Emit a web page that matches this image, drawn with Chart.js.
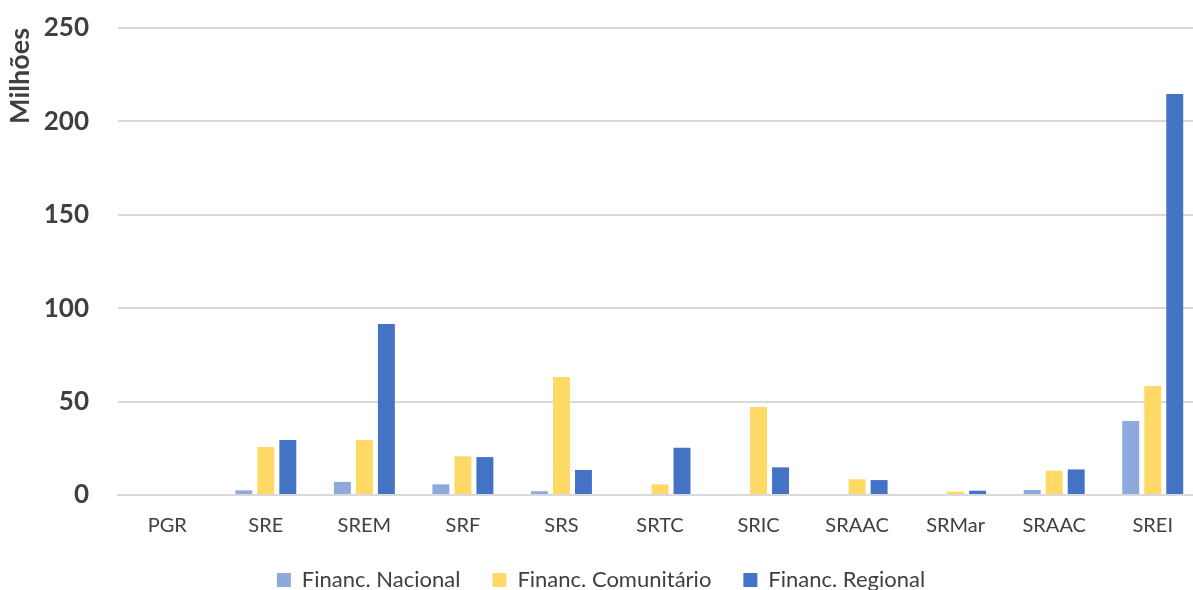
<!DOCTYPE html>
<html>
<head>
<meta charset="utf-8">
<script src="https://cdn.jsdelivr.net/npm/chart.js@4"></script>
<style>
    html, body { margin: 0; padding: 0; background: #fff; overflow: hidden; }
    #wrap { width: 1205px; height: 601px; position: relative; }
</style>
</head>
<body>
<div id="wrap"><canvas id="chart"></canvas></div>
<script>
// categories and series (milhões)
const categories = ['PGR', 'SRE', 'SREM', 'SRF', 'SRS', 'SRTC', 'SRIC', 'SRAAC', 'SRMar', 'SRAAC', 'SREI'];
const nacional = [0, 2.5, 7, 5.7, 2, 0, 0, 0, 0, 2.7, 39.6];
const comunitario = [0, 25.7, 29.4, 20.7, 63.2, 5.7, 47.1, 8.4, 1.8, 13, 58.4];
const regional = [0, 29.4, 91.5, 20.3, 13.4, 25.3, 14.8, 8, 2.3, 13.7, 214.7];
const yTicks = [0, 50, 100, 150, 200, 250];

const textColor = '#404040';
const gridColor = '#d9d9d9';
const fontFamily = 'Lato, "Open Sans", sans-serif';

function dataset(label, data, color) {
    return {
        label: label,
        data: data,
        backgroundColor: color,
        borderWidth: 0,
        categoryPercentage: 0.67,
        barPercentage: 0.77
    };
}

new Chart(document.getElementById('chart'), {
    type: 'bar',
    data: {
        labels: categories,
        datasets: [
            dataset('Financ. Nacional', nacional, '#8EA9DB'),
            dataset('Financ. Comunitário', comunitario, '#FFD966'),
            dataset('Financ. Regional', regional, '#4472C4')
        ]
    },
    options: {
        responsive: true,
        maintainAspectRatio: false,
        animation: false,
        layout: { padding: { top: 28, right: 3, left: 0, bottom: 0 } },
        plugins: {
            tooltip: { enabled: false },
            legend: {
                position: 'bottom',
                labels: {
                    color: textColor,
                    font: { family: fontFamily, size: 22 },
                    boxWidth: 14,
                    boxHeight: 14,
                    padding: 32
                }
            }
        },
        scales: {
            x: {
                grid: { display: false },
                border: { color: gridColor, width: 2 },
                ticks: {
                    color: textColor,
                    font: { family: fontFamily, size: 20 },
                    padding: 11
                },
                afterFit: (scale) => { scale.height = 42; }
            },
            y: {
                min: 0,
                max: 250,
                afterBuildTicks: (axis) => { axis.ticks = yTicks.map(v => ({ value: v })); },
                afterFit: (scale) => {
                    // fixed axis width, no extra label padding above/below
                    scale.width = 118;
                    scale.paddingTop = 0;
                    scale.paddingBottom = 0;
                },
                grid: { color: gridColor, lineWidth: 2, drawTicks: false },
                border: { display: false },
                ticks: {
                    color: textColor,
                    font: { family: fontFamily, size: 26, weight: 'bold' },
                    padding: 29
                },
                title: {
                    display: true,
                    text: 'Milhões',
                    align: 'end',
                    color: textColor,
                    font: { family: fontFamily, size: 27, weight: 'bold' },
                    padding: { top: 4, bottom: 2 }
                }
            }
        }
    }
});
</script>
</body>
</html>
